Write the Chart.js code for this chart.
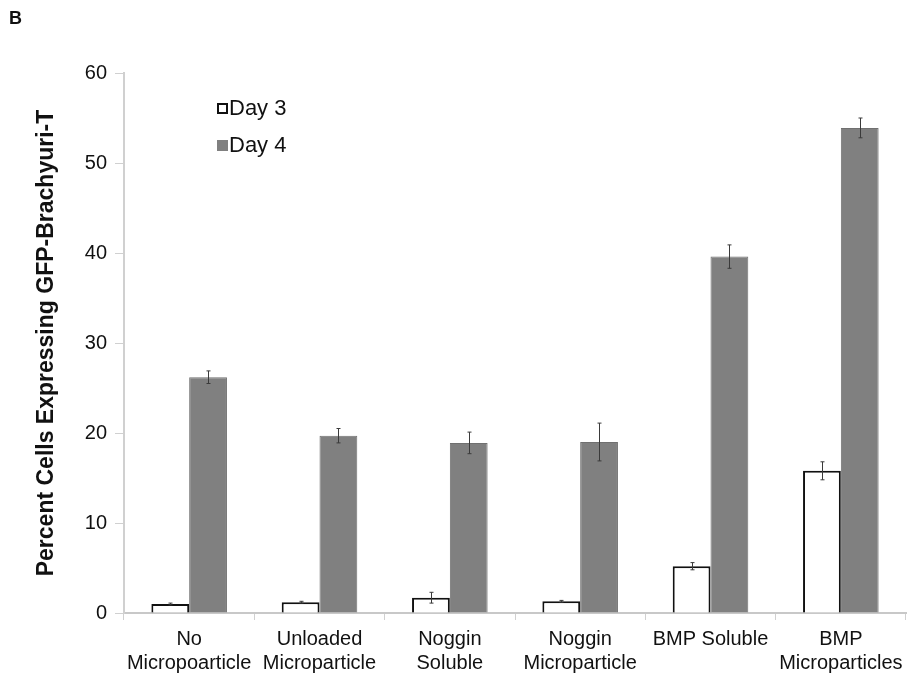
<!DOCTYPE html>
<html>
<head>
<meta charset="utf-8">
<script src="https://cdn.jsdelivr.net/npm/chart.js@4"></script>
<style>
  html, body { margin: 0; padding: 0; background: #fff; }
  #wrap { width: 914px; height: 675px; position: relative; }
</style>
</head>
<body>
<div id="wrap"><canvas id="c" width="914" height="675"></canvas></div>
<script>
// Treatment groups along the x axis
const categories = [
  ["No", "Micropoarticle"],
  ["Unloaded", "Microparticle"],
  ["Noggin", "Soluble"],
  ["Noggin", "Microparticle"],
  "BMP Soluble",
  ["BMP", "Microparticles"]
];
const seriesNames = ["Day 3", "Day 4"];

// Percent of cells expressing GFP-Brachyury-T, with error (+/-)
const day3 = [1.0, 1.2, 1.7, 1.3, 5.2, 15.8];
const day3Err = [0.1, 0.1, 0.6, 0.1, 0.4, 1.0];
const day4 = [26.2, 19.7, 18.9, 19.0, 39.6, 53.9];
const day4Err = [0.7, 0.8, 1.2, 2.1, 1.3, 1.1];

const yTicks = [0, 10, 20, 30, 40, 50, 60];
const yTitle = "Percent Cells Expressing GFP-Brachyuri-T";
const panelLetter = "B";

const FONT = "'Liberation Sans', Arial, Helvetica, sans-serif";
Chart.defaults.font.family = FONT;
Chart.defaults.color = "#111";

// Error bars drawn from each bar's value and its error through the y scale
const errorBars = {
  id: "errorBars",
  afterDatasetsDraw(chart) {
    const ctx = chart.ctx;
    const ys = chart.scales.y;
    chart.data.datasets.forEach((ds, i) => {
      const meta = chart.getDatasetMeta(i);
      meta.data.forEach((bar, j) => {
        const e = ds.errors[j];
        if (!e) return;
        const v = ds.data[j];
        const x = Math.round(bar.x) + 0.5;
        const yTop = ys.getPixelForValue(v + e);
        const yBot = ys.getPixelForValue(v - e);
        ctx.save();
        ctx.strokeStyle = "#3a3a3a";
        ctx.lineWidth = 1;
        ctx.beginPath();
        ctx.moveTo(x, yTop); ctx.lineTo(x, yBot);
        ctx.moveTo(x - 2, yTop); ctx.lineTo(x + 2, yTop);
        ctx.moveTo(x - 2, yBot); ctx.lineTo(x + 2, yBot);
        ctx.stroke();
        ctx.restore();
      });
    });
  }
};

// Legend inside the plot area plus the panel letter
const legendAndLetter = {
  id: "legendAndLetter",
  afterDraw(chart) {
    const ctx = chart.ctx;
    ctx.save();
    ctx.font = "bold 18px " + FONT;
    ctx.fillStyle = "#111";
    ctx.textBaseline = "alphabetic";
    ctx.fillText(panelLetter, 9, 24);

    const rows = [108, 145];
    chart.data.datasets.forEach((ds, i) => {
      const cy = rows[i];
      if (ds.borderWidth > 1) {
        ctx.fillStyle = ds.backgroundColor;
        ctx.fillRect(217, cy - 5, 11, 11);
        ctx.strokeStyle = ds.borderColor;
        ctx.lineWidth = 2;
        ctx.strokeRect(218, cy - 4, 9, 9);
      } else {
        ctx.fillStyle = ds.backgroundColor;
        ctx.fillRect(217, cy - 5, 11, 11);
      }
      ctx.fillStyle = "#111";
      ctx.font = "22px " + FONT;
      ctx.textBaseline = "middle";
      ctx.fillText(ds.label, 229, cy + 1);
    });
    ctx.restore();
  }
};

new Chart(document.getElementById("c"), {
  type: "bar",
  data: {
    labels: categories,
    datasets: [
      {
        label: seriesNames[0],
        data: day3,
        errors: day3Err,
        backgroundColor: "#ffffff",
        borderColor: "#111111",
        borderWidth: 2,
        categoryPercentage: 0.58,
        barPercentage: 1.0
      },
      {
        label: seriesNames[1],
        data: day4,
        errors: day4Err,
        backgroundColor: "#808080",
        borderColor: "#707070",
        borderWidth: 1,
        categoryPercentage: 0.58,
        barPercentage: 1.0
      }
    ]
  },
  options: {
    responsive: false,
    animation: false,
    devicePixelRatio: 1,
    layout: { padding: { top: 73, right: 8, left: 0, bottom: 0 } },
    plugins: {
      legend: { display: false },
      tooltip: { enabled: false }
    },
    scales: {
      x: {
        offset: true,
        grid: { offset: true, drawOnChartArea: false, drawTicks: true, tickLength: 7, color: "#d0d0d0" },
        border: { color: "#c8c8c8", width: 2 },
        ticks: { padding: 7, color: "#111", font: { size: 20 }, maxRotation: 0, autoSkip: false },
        afterFit: s => { s.height = 62; }
      },
      y: {
        min: 0,
        max: 60,
        afterBuildTicks: s => { s.ticks = yTicks.map(v => ({ value: v })); },
        grid: { drawOnChartArea: false, drawTicks: true, tickLength: 9, color: "#d0d0d0" },
        border: { color: "#d0d0d0", width: 2 },
        ticks: { padding: 8, color: "#111", font: { size: 20 } },
        title: {
          display: true,
          text: yTitle,
          color: "#111",
          font: { size: 23, weight: "bold" },
          padding: { top: 33, bottom: 0 }
        },
        afterFit: s => { s.width = 124; }
      }
    }
  },
  plugins: [errorBars, legendAndLetter]
});
</script>
</body>
</html>
